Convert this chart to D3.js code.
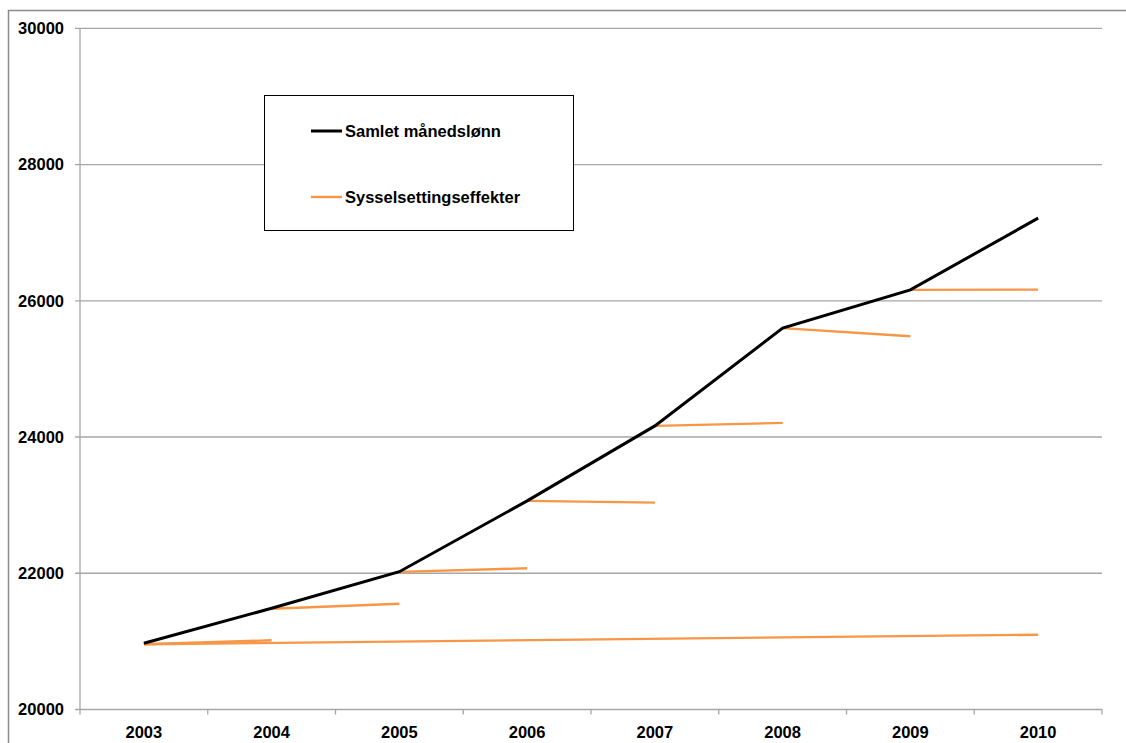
<!DOCTYPE html>
<html><head><meta charset="utf-8">
<script src="https://cdn.jsdelivr.net/npm/d3@7"></script>
<style>body{margin:0;background:#fff}svg{display:block}text{font-family:"Liberation Sans",Arial,sans-serif;font-weight:bold}</style>
</head><body><svg id="c" width="1126" height="743"></svg>
<script>
const years = ["2003","2004","2005","2006","2007","2008","2009","2010"];
const samletManedslonn = [20972, 21486, 22023, 23062, 24163, 25598, 26160, 27213];
// Sysselsettingseffekter: segments [fromYear, toYear, startValue, endValue]
const effektFra = ["2003","2003","2004","2005","2006","2007","2008","2009"];
const effektTil = ["2004","2010","2005","2006","2007","2008","2009","2010"];
const effektStart = [20957, 20957, 21480, 22020, 23062, 24163, 25598, 26160];
const effektSlutt = [21016, 21098, 21553, 22073, 23037, 24207, 25480, 26164];
const yTicks = [20000, 22000, 24000, 26000, 28000, 30000];

const svg = d3.select("#c");
const L = 80, R = 1102, T = 28.3, B = 709.5;
const x = d3.scaleBand().domain(years).range([L, R]);
const xc = d => x(d) + x.bandwidth()/2;
const y = d3.scaleLinear().domain([20000, 30000]).range([B, T]);
const FS = 16.5;

// outer frame (cut off at right/bottom)
svg.append("path").attr("d", `M8.5,760V10.5H1140`).attr("fill","none").attr("stroke","#8c8c8c").attr("stroke-width",1.5);

// gridlines
svg.append("g").selectAll("line").data(yTicks).join("line")
  .attr("x1", L-5).attr("x2", R).attr("y1", d=>y(d)).attr("y2", d=>y(d))
  .attr("stroke","#a6a6a6").attr("stroke-width",1.3);
// y axis line
svg.append("line").attr("x1",L).attr("x2",L).attr("y1",T).attr("y2",B).attr("stroke","#a6a6a6").attr("stroke-width",1.3);
// y labels
svg.append("g").selectAll("text").data(yTicks).join("text")
  .attr("x", 64).attr("y", d=>y(d)).attr("dy","0.35em").attr("text-anchor","end")
  .attr("font-size",FS).text(d=>d);
// x ticks at band boundaries
const bounds = years.map(d=>x(d)).concat([R]);
svg.append("g").selectAll("line").data(bounds).join("line")
  .attr("x1",d=>d).attr("x2",d=>d).attr("y1",B).attr("y2",B+5)
  .attr("stroke","#a6a6a6").attr("stroke-width",1.3);
svg.append("g").selectAll("text").data(years).join("text")
  .attr("x", d=>xc(d)).attr("y", 738).attr("text-anchor","middle")
  .attr("font-size",FS).text(d=>d);

// orange segments
svg.append("g").selectAll("line").data(effektFra.map((f,i)=>i)).join("line")
  .attr("x1", i=>xc(effektFra[i])).attr("x2", i=>xc(effektTil[i]))
  .attr("y1", i=>y(effektStart[i])).attr("y2", i=>y(effektSlutt[i]))
  .attr("stroke","#f79646").attr("stroke-width",2.4);

// black line
svg.append("path").datum(samletManedslonn)
  .attr("d", d3.line().x((d,i)=>xc(years[i])).y(d=>y(d)))
  .attr("fill","none").attr("stroke","#000").attr("stroke-width",3).attr("stroke-linejoin","miter");

// legend
const lg = svg.append("g");
lg.append("rect").attr("x",264.5).attr("y",95.5).attr("width",309).attr("height",135)
  .attr("fill","#fff").attr("stroke","#000").attr("stroke-width",1);
const legendItems = [["Samlet månedslønn","#000",3,131],["Sysselsettingseffekter","#f79646",2.4,197]];
legendItems.forEach(([t,c,w,yy])=>{
  lg.append("line").attr("x1",311).attr("x2",342).attr("y1",yy).attr("y2",yy).attr("stroke",c).attr("stroke-width",w);
  lg.append("text").attr("x",345).attr("y",yy).attr("dy","0.35em").attr("font-size",FS).text(t);
});
</script></body></html>
